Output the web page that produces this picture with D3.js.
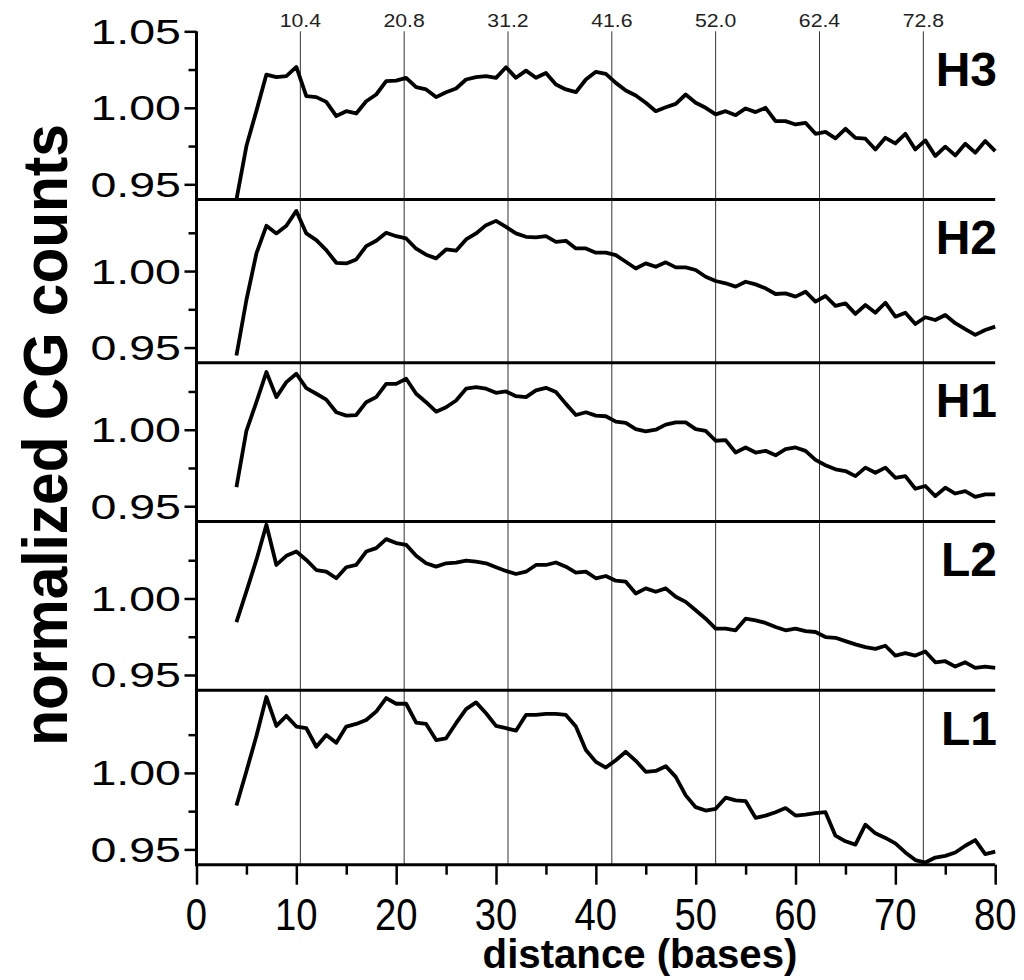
<!DOCTYPE html>
<html><head><meta charset="utf-8">
<script src="https://cdn.jsdelivr.net/npm/d3@7"></script>
<style>body{margin:0;background:#fff}svg{display:block}</style>
</head><body>
<svg id="chart" width="1024" height="980"></svg>
<script>
// ---------- data ----------
const distance = d3.range(4, 81); // 4 .. 80 bases
const panelNames = ["H3", "H2", "H1", "L2", "L1"];
const H3 = [0.940,0.975,0.998,1.0217,1.020,1.0207,1.0267,1.0076,1.007,1.0039,0.9946,0.9978,0.9963,1.0043,1.0087,1.0174,1.0178,1.0196,1.0135,1.012,1.007,1.0102,1.0126,1.0185,1.020,1.0207,1.0196,1.0265,1.0196,1.0243,1.0196,1.0228,1.0152,1.012,1.0102,1.0185,1.0235,1.0222,1.0163,1.0113,1.008,1.0033,0.9978,1.0004,1.0026,1.0087,1.0033,1.000,0.9957,0.9978,0.9952,0.9996,0.9972,1.000,0.9913,0.9913,0.9891,0.9902,0.983,0.9843,0.980,0.9863,0.9804,0.9798,0.9728,0.9804,0.9767,0.983,0.9728,0.9787,0.9685,0.9746,0.9689,0.9765,0.9707,0.9783,0.9717];
const H2 = [0.9448,0.9811,1.0115,1.0296,1.0246,1.0296,1.0393,1.0246,1.0202,1.0137,1.0054,1.005,1.0076,1.0163,1.0198,1.025,1.0228,1.0213,1.0146,1.0107,1.0083,1.0141,1.0133,1.0207,1.0246,1.030,1.0328,1.0289,1.0246,1.0224,1.022,1.0228,1.0191,1.0198,1.0148,1.0148,1.012,1.012,1.0104,1.0061,1.0017,1.005,1.0028,1.0057,1.0024,1.0024,1.0007,0.9963,0.9935,0.992,0.9898,0.993,0.9913,0.9887,0.985,0.9854,0.9833,0.9865,0.980,0.9837,0.9772,0.9789,0.972,0.9778,0.9728,0.9793,0.9702,0.9728,0.9654,0.9698,0.968,0.9713,0.9659,0.962,0.9583,0.9615,0.9637];
const H1 = [0.9625,0.9993,1.018,1.0377,1.0213,1.0311,1.0366,1.0272,1.0235,1.0197,1.0114,1.0092,1.0096,1.018,1.0213,1.030,1.030,1.0333,1.0235,1.018,1.0118,1.0147,1.0191,1.0268,1.0279,1.0268,1.0241,1.025,1.0219,1.0213,1.0257,1.0274,1.0246,1.0169,1.0096,1.0114,1.0092,1.0088,1.0053,1.0044,1.0004,0.9989,1.000,1.0033,1.0048,1.0048,1.0004,0.9993,0.9928,0.9932,0.9851,0.9884,0.9851,0.9862,0.9833,0.9873,0.9884,0.9862,0.9803,0.9768,0.9741,0.973,0.9697,0.9752,0.9719,0.9752,0.9686,0.9697,0.9614,0.9632,0.9566,0.9621,0.9583,0.9599,0.9561,0.9577,0.9577];
const L2 = [0.9846,1.0046,1.0252,1.0482,1.0219,1.0279,1.0307,1.0252,1.0186,1.0175,1.0132,1.0204,1.0219,1.0307,1.0329,1.0388,1.0362,1.0351,1.0279,1.023,1.0208,1.023,1.0235,1.0248,1.0241,1.023,1.0204,1.018,1.016,1.0175,1.0219,1.0219,1.0235,1.0208,1.0169,1.0175,1.0132,1.0147,1.0116,1.011,1.0033,1.0066,1.0044,1.0066,1.0011,0.9978,0.9923,0.9868,0.9803,0.9803,0.9792,0.9868,0.9857,0.984,0.9814,0.9792,0.9803,0.9787,0.9781,0.9748,0.9743,0.9721,0.970,0.9682,0.9671,0.9691,0.9627,0.9643,0.9627,0.9654,0.9583,0.959,0.9555,0.9583,0.9546,0.9555,0.9546];
const L1 = [0.9787,1.0011,1.0241,1.0496,1.0307,1.0373,1.0303,1.0292,1.0171,1.0248,1.0197,1.0303,1.032,1.0346,1.0401,1.0489,1.0452,1.0452,1.0329,1.032,1.0215,1.0226,1.0325,1.0417,1.0461,1.039,1.0307,1.0292,1.0276,1.0379,1.0379,1.0386,1.0386,1.0379,1.0303,1.0149,1.0072,1.0035,1.0083,1.0138,1.0079,1.0007,1.0013,1.0044,0.9974,0.9853,0.9776,0.9754,0.9765,0.9838,0.982,0.9816,0.9706,0.9721,0.9743,0.977,0.9721,0.9728,0.9737,0.9743,0.959,0.9553,0.9531,0.9662,0.9605,0.9575,0.9539,0.948,0.943,0.9414,0.9447,0.9458,0.948,0.9524,0.9561,0.9469,0.9485];
const seriesValues = [H3, H2, H1, L2, L1];
const yMaxByPanel = [1.05, 1.0467, 1.0437, 1.0503, 1.054];
const yMin = 0.94;
const refLines = [10.4, 20.8, 31.2, 41.6, 52.0, 62.4, 72.8];
const xMajorTicks = [0, 10, 20, 30, 40, 50, 60, 70, 80];
const xMinorTicks = [5, 15, 25, 35, 45, 55, 65, 75];
const yMajorTicksTop = [0.95, 1.00, 1.05];   // top panel (H3)
const yMajorTicks = [0.95, 1.00];            // other panels
const yMinorTicks = [0.975, 1.025];
const xTitle = "distance (bases)";
const yTitle = "normalized CG counts";

// ---------- layout ----------
const svg = d3.select("#chart");
const left = 196.5, right = 995.2;
const pxPerUnit = 1530;
const plotBottom = 864.7;
const x = d3.scaleLinear().domain([0, 80]).range([left, right]);

const panels = [];
{
  let b = plotBottom;
  const bottoms = [];
  for (let i = panelNames.length - 1; i >= 0; i--) {
    bottoms[i] = b;
    b -= (yMaxByPanel[i] - yMin) * pxPerUnit;
  }
  for (let i = 0; i < panelNames.length; i++) {
    const bottom = bottoms[i];
    const top = bottom - (yMaxByPanel[i] - yMin) * pxPerUnit;
    panels.push({name: panelNames[i], values: seriesValues[i], top, bottom,
      y: d3.scaleLinear().domain([yMin, yMaxByPanel[i]]).range([bottom, top])});
  }
}
const plotTop = panels[0].top;

// reference vertical lines
svg.append("g").selectAll("line").data(refLines).join("line")
  .attr("x1", d => x(d)).attr("x2", d => x(d))
  .attr("y1", plotTop).attr("y2", plotBottom)
  .attr("stroke", "#333").attr("stroke-width", 1);
svg.append("g").selectAll("text").data(refLines).join("text")
  .attr("transform", d => `translate(${x(d)},27) scale(1.18,1)`)
  .attr("text-anchor", "middle")
  .attr("font-family", "Liberation Sans, Arial, sans-serif")
  .attr("font-size", 18).attr("fill", "#222")
  .text(d => d3.format(".1f")(d));

const line = d3.line().x((d, i) => x(distance[i]));

panels.forEach((p, pi) => {
  const g = svg.append("g");
  const cid = "clip" + pi;
  svg.append("clipPath").attr("id", cid).append("rect")
    .attr("x", left).attr("y", p.top - 2).attr("width", right - left + 2).attr("height", p.bottom - p.top + 2);
  g.append("path").datum(p.values)
    .attr("clip-path", `url(#${cid})`)
    .attr("d", line.y(d => p.y(d)))
    .attr("fill", "none").attr("stroke", "#000").attr("stroke-width", 3.8)
    .attr("stroke-linejoin", "round");
  g.append("line").attr("x1", left).attr("x2", right)
    .attr("y1", p.bottom).attr("y2", p.bottom)
    .attr("stroke", "#000").attr("stroke-width", 3);
  const maj = pi === 0 ? yMajorTicksTop : yMajorTicks;
  g.append("g").attr("transform", `translate(${left},0)`)
    .call(d3.axisLeft(p.y).tickValues(maj).tickSize(12).tickFormat(""))
    .call(a => a.select(".domain").remove())
    .call(a => a.selectAll("line").attr("stroke-width", 2.5));
  g.append("g").attr("transform", `translate(${left},0)`)
    .call(d3.axisLeft(p.y).tickValues(yMinorTicks).tickSize(8).tickFormat(""))
    .call(a => a.select(".domain").remove())
    .call(a => a.selectAll("line").attr("stroke-width", 2.5));
  g.selectAll("text.ylab").data(maj).join("text").attr("class", "ylab")
    .attr("transform", d => `translate(181,${p.y(d) + 12.5}) scale(1.33,1)`)
    .attr("text-anchor", "end")
    .attr("font-family", "Liberation Sans, Arial, sans-serif")
    .attr("font-size", 35).attr("fill", "#000")
    .text(d => d3.format(".2f")(d));
  g.append("text")
    .attr("x", 997).attr("y", p.top + 54.5)
    .attr("text-anchor", "end")
    .attr("font-family", "Liberation Sans, Arial, sans-serif")
    .attr("font-weight", "bold").attr("font-size", 48)
    .text(p.name);
});

// left axis line
svg.append("line").attr("x1", left).attr("x2", left)
  .attr("y1", plotTop).attr("y2", plotBottom + 1.5)
  .attr("stroke", "#000").attr("stroke-width", 3);

// x axis
const xg = svg.append("g").attr("transform", `translate(0,${plotBottom})`);
xg.append("g").call(d3.axisBottom(x).tickValues(xMajorTicks).tickSize(20).tickFormat(""))
  .call(a => a.select(".domain").remove())
  .call(a => a.selectAll("line").attr("stroke-width", 2.5));
xg.append("g").call(d3.axisBottom(x).tickValues(xMinorTicks).tickSize(10).tickFormat(""))
  .call(a => a.select(".domain").remove())
  .call(a => a.selectAll("line").attr("stroke-width", 2.5));
xg.selectAll("text.xlab").data(xMajorTicks).join("text").attr("class", "xlab")
  .attr("transform", d => `translate(${x(d)},65) scale(0.85,1)`)
  .attr("text-anchor", "middle")
  .attr("font-family", "Liberation Sans, Arial, sans-serif")
  .attr("font-size", 45).attr("fill", "#000")
  .text(d => d);

svg.append("text")
  .attr("transform", "translate(640,968) scale(0.98,1)")
  .attr("text-anchor", "middle")
  .attr("font-family", "Liberation Sans, Arial, sans-serif")
  .attr("font-weight", "bold").attr("font-size", 41)
  .text(xTitle);

svg.append("text")
  .attr("transform", "translate(67,435) rotate(-90) scale(0.945,1)")
  .attr("text-anchor", "middle")
  .attr("font-family", "Liberation Sans, Arial, sans-serif")
  .attr("font-weight", "bold").attr("font-size", 62)
  .text(yTitle);
</script>
</body></html>
